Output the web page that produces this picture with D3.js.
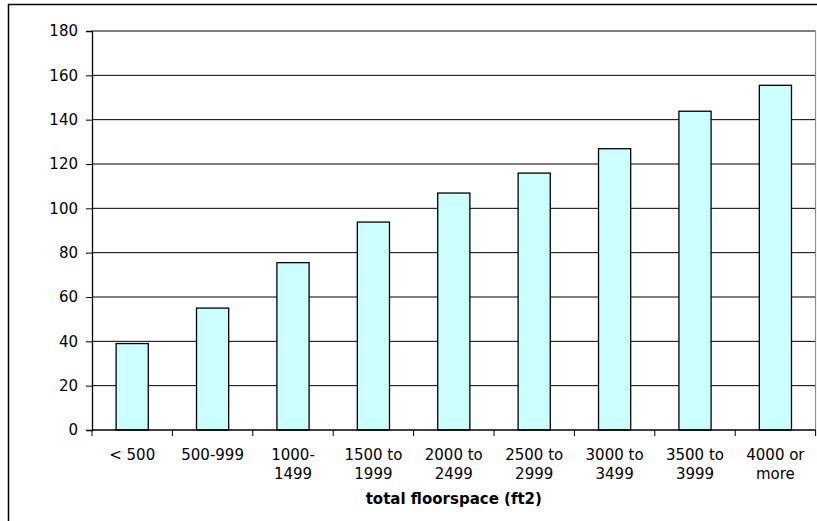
<!DOCTYPE html>
<html>
<head>
<meta charset="utf-8">
<script src="https://cdn.jsdelivr.net/npm/d3@7"></script>
<style>
  html, body { margin: 0; padding: 0; background: #fff; }
  svg { display: block; }
</style>
</head>
<body>
<svg id="chart" width="817" height="521"></svg>
<script>
const categories = ["< 500", "500-999", "1000-|1499", "1500 to|1999", "2000 to|2499", "2500 to|2999", "3000 to|3499", "3500 to|3999", "4000 or|more"];
const values = [39, 55, 75.5, 93.8, 106.9, 115.9, 126.9, 143.8, 155.5];
const yTicks = [0, 20, 40, 60, 80, 100, 120, 140, 160, 180];
const xTitle = "total floorspace (ft2)";

(function () {
const svg = d3.select("#chart");
const font = "'DejaVu Sans', Verdana, sans-serif";
const fs = 15;

// outer chart frame
svg.append("rect")
  .attr("x", 8.5).attr("y", 4.5)
  .attr("width", 830).attr("height", 540)
  .attr("fill", "#fff").attr("stroke", "#000").attr("stroke-width", 1.5);

const pL = 92, pR = 815.6, pT = 31, pB = 430;

const x = d3.scaleBand().domain(categories).range([pL, pR]).padding(0);
const y = d3.scaleLinear().domain([0, 180]).range([pB, pT]);
const step = x.step();

// gridlines
svg.append("g").selectAll("line").data(yTicks.filter(d => d > 0)).join("line")
  .attr("x1", pL).attr("x2", pR)
  .attr("y1", d => y(d)).attr("y2", d => y(d))
  .attr("stroke", "#000").attr("stroke-width", 1);

// right border of plot area
svg.append("line")
  .attr("x1", pR).attr("x2", pR).attr("y1", pT).attr("y2", pB)
  .attr("stroke", "#808080").attr("stroke-width", 1);

// bars
svg.append("g").selectAll("rect").data(values).join("rect")
  .attr("x", (d, i) => x(categories[i]) + step * 0.3)
  .attr("width", step * 0.4)
  .attr("y", d => y(d))
  .attr("height", d => y(0) - y(d))
  .attr("fill", "#CCFFFF")
  .attr("stroke", "#000").attr("stroke-width", 1.3);

// y axis
const yAxis = svg.append("g").attr("transform", `translate(${pL},0)`)
  .call(d3.axisLeft(y).tickValues(yTicks).tickSize(6).tickPadding(8).tickFormat(d3.format("d")));
yAxis.select(".domain").attr("stroke", "#000").attr("stroke-width", 1.3);
yAxis.selectAll(".tick line").attr("stroke", "#000");
yAxis.selectAll("text").attr("font-family", font).attr("font-size", fs).attr("fill", "#000");

// x axis
const xAxis = svg.append("g").attr("transform", `translate(0,${pB})`);
xAxis.append("line").attr("x1", pL).attr("x2", pR).attr("y1", 0).attr("y2", 0)
  .attr("stroke", "#000").attr("stroke-width", 1.3);
const tickPos = categories.map(c => x(c)).concat([pR]);
xAxis.selectAll("line.tk").data(tickPos).join("line").attr("class", "tk")
  .attr("x1", d => d).attr("x2", d => d).attr("y1", 0).attr("y2", 6)
  .attr("stroke", "#000").attr("stroke-width", 1);
const lbl = xAxis.selectAll("text.lbl").data(categories).join("text").attr("class", "lbl")
  .attr("x", d => x(d) + step / 2)
  .attr("y", 29.5)
  .attr("text-anchor", "middle")
  .attr("font-family", font).attr("font-size", fs).attr("fill", "#000");
lbl.each(function(d) {
  const parts = d.split("|");
  const t = d3.select(this);
  parts.forEach((p, i) => {
    t.append("tspan").attr("x", x(d) + step / 2).attr("dy", i === 0 ? 0 : 19.7).text(p);
  });
});

// x title
svg.append("text")
  .attr("x", (pL + pR) / 2).attr("y", 504)
  .attr("text-anchor", "middle")
  .attr("font-family", font).attr("font-size", fs).attr("font-weight", "bold")
  .attr("fill", "#000")
  .text(xTitle);
})();
</script>
</body>
</html>
